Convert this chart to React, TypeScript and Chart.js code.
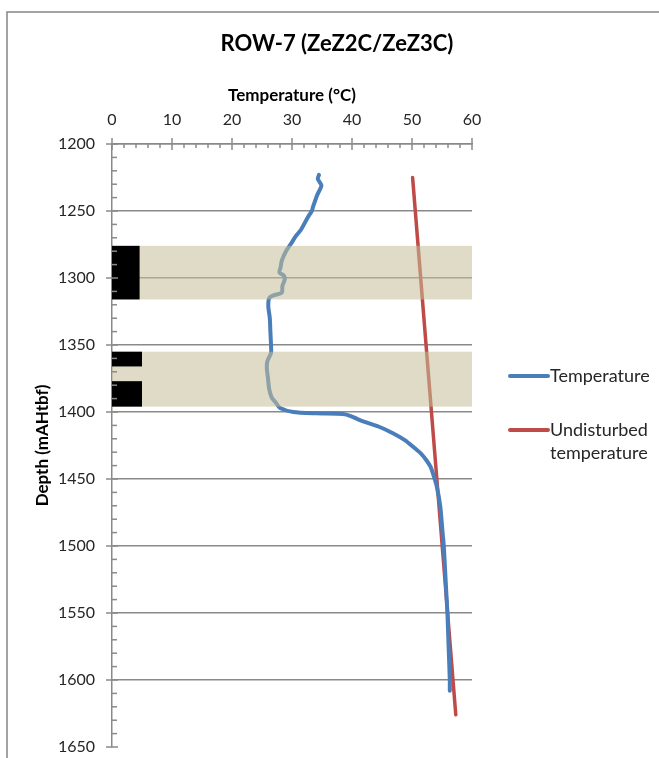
import React, { useEffect, useRef } from 'react';
import { Chart, registerables } from 'chart.js';

Chart.register(...registerables);

const chartTitle = 'ROW-7 (ZeZ2C/ZeZ3C)';
const xAxisTitle = 'Temperature (°C)';
const yAxisTitle = 'Depth (mAHtbf)';

const xMin = 0;
const xMax = 60;
const xMajorStep = 10;
const xMinorStep = 2;
const yMin = 1200;
const yMax = 1650;
const yMajorStep = 50;
const yMinorStep = 10;

const tempLabel = 'Temperature';
const tempDepth = [
  1223, 1226, 1231, 1238, 1247, 1250, 1255, 1264, 1269, 1274, 1280, 1287, 1292, 1296, 1298,
  1301, 1306, 1311, 1313, 1315, 1321, 1330, 1340, 1350, 1356, 1362, 1367, 1375, 1383, 1389,
  1393, 1397, 1400, 1401, 1401.5, 1403, 1406, 1411, 1416, 1421, 1426, 1431, 1436, 1441, 1446,
  1455, 1470, 1490, 1500, 1525, 1550, 1575, 1600, 1608,
];
const tempValues = [
  34.5, 34.3, 34.9, 34.2, 33.5, 33.3, 32.6, 31.5, 30.6, 29.9, 29.0, 28.3, 28.1, 27.9, 28.6,
  28.8, 28.4, 28.3, 26.9, 26.2, 26.05, 26.3, 26.4, 26.5, 26.5, 25.9, 25.8, 26.0, 26.2, 26.6,
  27.3, 28.0, 30.2, 34.0, 38.5, 39.8, 41.3, 44.5, 46.9, 48.8, 50.2, 51.5, 52.4, 53.1, 53.5,
  54.1, 54.7, 55.1, 55.3, 55.6, 55.9, 56.1, 56.3, 56.3,
];

const undisturbedLabel = 'Undisturbed temperature';
const undisturbedDepth = [1225, 1626];
const undisturbedValues = [50.1, 57.3];

// Shaded intervals (full width) and black blocks at left
const bandTop = [1276, 1355];
const bandBottom = [1316, 1396];
const blockTop = [1276, 1355, 1377];
const blockBottom = [1316, 1366, 1396];
const blockRight = [4.6, 5.0, 5.0];

const FONT = 'Lato, "Open Sans", "DejaVu Sans", sans-serif';
const TEXT = '#262626';
const AXIS_GRAY = '#8a8a8a';
const BLUE = '#4a7ebb';
const RED = '#be4b48';

const framePlugin = {
  id: 'frame',
  beforeDraw(chart: any) {
    const ctx = chart.ctx;
    ctx.save();
    ctx.fillStyle = '#ffffff';
    ctx.fillRect(0, 0, chart.width, chart.height);
    ctx.strokeStyle = '#8c8c8c';
    ctx.lineWidth = 1.6;
    ctx.strokeRect(7, 12, chart.width + 20, chart.height + 20);
    ctx.restore();
  },
  afterDraw(chart: any) {
    const ctx = chart.ctx;
    ctx.save();
    ctx.fillStyle = '#000000';
    ctx.font = `bold 22px ${FONT}`;
    ctx.textAlign = 'center';
    ctx.textBaseline = 'middle';
    ctx.fillText(chartTitle, 337, 44);
    ctx.restore();
  },
};

const overlayPlugin = {
  id: 'overlay',
  afterDatasetsDraw(chart: any) {
    const ctx = chart.ctx;
    const xs = chart.scales.x;
    const ys = chart.scales.y;
    ctx.save();
    ctx.fillStyle = 'rgba(196,189,151,0.55)';
    for (let i = 0; i < bandTop.length; i++) {
      const x0 = xs.getPixelForValue(xMin);
      const x1 = xs.getPixelForValue(xMax);
      const y0 = ys.getPixelForValue(bandTop[i]);
      const y1 = ys.getPixelForValue(bandBottom[i]);
      ctx.fillRect(x0, y0, x1 - x0, y1 - y0);
    }
    ctx.fillStyle = '#000000';
    for (let i = 0; i < blockTop.length; i++) {
      const x0 = xs.getPixelForValue(xMin);
      const x1 = xs.getPixelForValue(blockRight[i]);
      const y0 = ys.getPixelForValue(blockTop[i]);
      const y1 = ys.getPixelForValue(blockBottom[i]);
      ctx.fillRect(x0, y0, x1 - x0, y1 - y0);
    }
    ctx.strokeStyle = AXIS_GRAY;
    ctx.lineWidth = 1.5;
    const axisY = ys.getPixelForValue(yMin);
    for (let v = xMin; v <= xMax + 1e-9; v += xMinorStep) {
      const px = xs.getPixelForValue(v);
      const major = Math.abs(v / xMajorStep - Math.round(v / xMajorStep)) < 1e-9;
      ctx.beginPath();
      if (major) {
        ctx.moveTo(px, axisY - 6);
        ctx.lineTo(px, axisY + 6);
      } else {
        ctx.moveTo(px, axisY);
        ctx.lineTo(px, axisY + 4);
      }
      ctx.stroke();
    }
    const axisX = xs.getPixelForValue(xMin);
    for (let v = yMin; v <= yMax + 1e-9; v += yMinorStep) {
      const py = ys.getPixelForValue(v);
      const major = Math.abs(v / yMajorStep - Math.round(v / yMajorStep)) < 1e-9;
      ctx.beginPath();
      if (major) {
        ctx.moveTo(axisX - 6, py);
        ctx.lineTo(axisX + 6, py);
      } else {
        ctx.moveTo(axisX, py);
        ctx.lineTo(axisX + 5, py);
      }
      ctx.stroke();
    }
    ctx.restore();
  },
};

const legendPlugin = {
  id: 'sideLegend',
  afterDraw(chart: any) {
    const ctx = chart.ctx;
    const area = chart.chartArea;
    const lineStart = area.right + 38;
    const lineEnd = lineStart + 38;
    const textX = lineEnd + 2;
    const maxW = 105;
    const itemY = [376, 430];
    ctx.save();
    ctx.font = `18px ${FONT}`;
    ctx.textBaseline = 'middle';
    ctx.textAlign = 'left';
    chart.data.datasets.forEach((ds: any, i: number) => {
      const y = itemY[i];
      ctx.strokeStyle = ds.borderColor;
      ctx.lineWidth = 4;
      ctx.lineCap = 'round';
      ctx.beginPath();
      ctx.moveTo(lineStart, y);
      ctx.lineTo(lineEnd, y);
      ctx.stroke();
      const words = String(ds.label).split(' ');
      const lines: string[] = [];
      let cur = '';
      words.forEach((w) => {
        const test = cur ? cur + ' ' + w : w;
        if (ctx.measureText(test).width > maxW && cur) {
          lines.push(cur);
          cur = w;
        } else {
          cur = test;
        }
      });
      if (cur) lines.push(cur);
      ctx.fillStyle = TEXT;
      lines.forEach((ln, k) => ctx.fillText(ln, textX, y + k * 23));
    });
    ctx.restore();
  },
};

export default function App() {
  const ref = useRef<HTMLCanvasElement | null>(null);

  useEffect(() => {
    if (!ref.current) return;
    const tempData = tempDepth.map((d, i) => ({ x: tempValues[i], y: d }));
    const undData = undisturbedDepth.map((d, i) => ({ x: undisturbedValues[i], y: d }));
    const chart = new Chart(ref.current, {
      type: 'scatter',
      data: {
        datasets: [
          {
            label: tempLabel,
            data: tempData,
            showLine: true,
            borderColor: BLUE,
            backgroundColor: BLUE,
            borderWidth: 4,
            pointRadius: 0,
            tension: 0.25,
            borderJoinStyle: 'round',
            borderCapStyle: 'round',
          },
          {
            label: undisturbedLabel,
            data: undData,
            showLine: true,
            borderColor: RED,
            backgroundColor: RED,
            borderWidth: 3.5,
            pointRadius: 0,
            borderCapStyle: 'round',
          },
        ],
      },
      options: {
        animation: false,
        responsive: false,
        layout: { padding: { left: 8, top: 20, right: 187, bottom: 11 } },
        plugins: {
          legend: { display: false },
          tooltip: { enabled: false },
          title: { display: false },
        },
        scales: {
          x: {
            type: 'linear',
            position: 'top',
            min: xMin,
            max: xMax,
            ticks: {
              stepSize: xMajorStep,
              color: TEXT,
              font: { family: FONT, size: 16 },
              padding: 15,
              callback: (v: any) => String(v),
            },
            grid: { display: false, drawTicks: false },
            border: { display: true, color: AXIS_GRAY, width: 1.5 },
            title: {
              display: true,
              text: xAxisTitle,
              color: '#000000',
              font: { family: FONT, size: 17, weight: 'bold' },
              padding: { top: 65, bottom: 0 },
            },
            afterFit: (s: any) => {
              s.height = 124;
            },
          },
          y: {
            type: 'linear',
            reverse: true,
            min: yMin,
            max: yMax,
            ticks: {
              stepSize: yMajorStep,
              color: TEXT,
              font: { family: FONT, size: 16 },
              padding: 17,
              callback: (v: any) => String(v),
            },
            grid: {
              drawTicks: false,
              color: (c: any) => (c.tick && c.tick.value === yMax ? 'rgba(0,0,0,0)' : AXIS_GRAY),
              lineWidth: 1.5,
            },
            border: { display: true, color: AXIS_GRAY, width: 1.5 },
            title: {
              display: true,
              text: yAxisTitle,
              color: '#000000',
              font: { family: FONT, size: 17, weight: 'bold' },
              padding: { top: 24, bottom: 0 },
            },
            afterFit: (s: any) => {
              s.width = 104;
              s.paddingTop = 0;
              s.paddingBottom = 0;
            },
          },
        },
      } as any,
      plugins: [framePlugin, overlayPlugin, legendPlugin],
    });
    return () => chart.destroy();
  }, []);

  return (
    <div style={{ position: 'fixed', left: 0, top: 0, width: 659, height: 758, background: '#fff' }}>
      <canvas ref={ref} width={659} height={758} style={{ display: 'block' }} />
    </div>
  );
}
